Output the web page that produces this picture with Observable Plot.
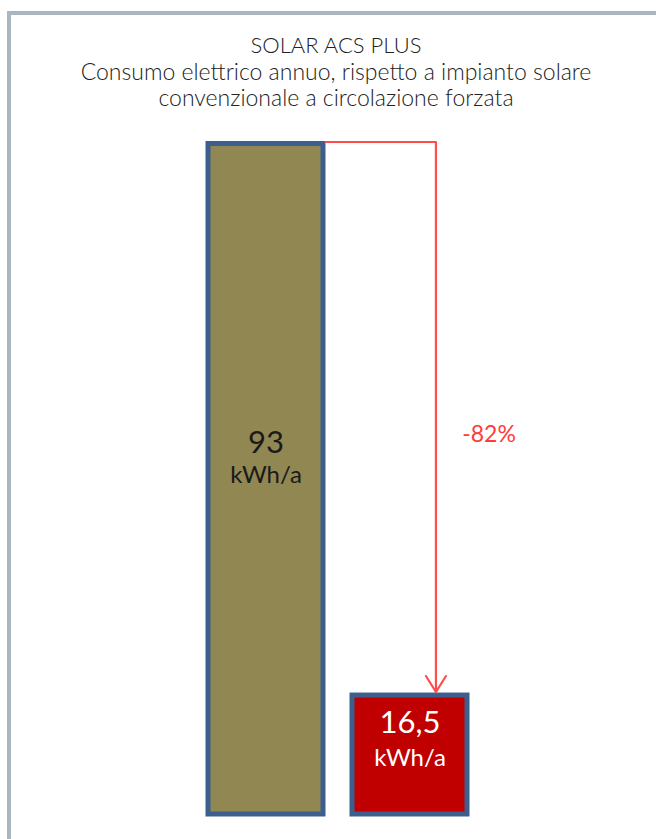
<!DOCTYPE html>
<html>
<head>
<meta charset="utf-8">
<script src="https://cdn.jsdelivr.net/npm/d3@7"></script>
<script src="https://cdn.jsdelivr.net/npm/@observablehq/plot@0.6"></script>
<style>
  html, body { margin: 0; padding: 0; background: #fff; overflow: hidden; }
  #wrap { position: relative; width: 656px; height: 839px; }
  #frame { position: absolute; left: 7px; top: 11px; right: 0; bottom: 0;
           border-left: 4px solid #a9b6c0; border-top: 4px solid #a9b6c0; z-index: 2; pointer-events: none; }
  #title { position: absolute; left: 16px; width: 640px; top: 32px; text-align: center;
           font-family: Lato, "Open Sans", sans-serif; font-weight: 300; font-size: 23px;
           line-height: 26px; color: #222; z-index: 3; }
  #title .l1 { font-size: 22px; }
  #chart { position: absolute; left: 0; top: 0; z-index: 1; }
</style>
</head>
<body>
<div id="wrap">
  <div id="chart"></div>
  <div id="frame"></div>
  <div id="title">
    <div class="l1">SOLAR ACS PLUS</div>
    <div>Consumo elettrico annuo, rispetto a impianto solare</div>
    <div>convenzionale a circolazione forzata</div>
  </div>
</div>
<script>
// ---- data ----
const categories = ["Impianto solare convenzionale", "SOLAR ACS PLUS"];
const values = [93, 16.5];
const valueLabels = ["93", "16,5"];
const unitLabel = "kWh/a";
const reductionLabel = "-82%";

// ---- styles ----
const barColors = ["#918752", "#c00000"];
const textColors = ["#1a1a1a", "#ffffff"];
const borderColor = "#3d5f8e";
const arrowColor = "#ff4d4d";

const data = categories.map((c, i) => ({cat: c, value: values[i], label: valueLabels[i], i}));

// elbow arrow from the top of the first bar to the top of the second
function arrowMark(index, scales) {
  const x = scales.x, y = scales.y;
  const bw = typeof x.bandwidth === "function" ? x.bandwidth() : scales.scales.x.bandwidth;
  const xStart = x(categories[0]) + bw + 2.5;
  const xArrow = x(categories[1]) + bw * 0.73;
  const yTop = y(values[0]) - 1.5;
  const yTip = y(values[1]) - 3;
  const g = d3.create("svg:g")
    .attr("fill", "none")
    .attr("stroke", arrowColor)
    .attr("stroke-width", 2.2)
    .attr("stroke-linejoin", "round")
    .attr("stroke-linecap", "round");
  g.append("path").attr("d", `M${xStart},${yTop}H${xArrow}V${yTip}`);
  g.append("path").attr("d", `M${xArrow - 10},${yTip - 16}L${xArrow},${yTip}L${xArrow + 10},${yTip - 16}`);
  return g.node();
}

const chart = Plot.plot({
  width: 656,
  height: 839,
  marginTop: 143.5,
  marginBottom: 25,
  marginLeft: 179,
  marginRight: 159.5,
  x: {domain: categories, padding: 0.2, axis: null},
  y: {domain: [0, d3.max(values)], axis: null},
  style: {background: "transparent", overflow: "visible", fontFamily: "Lato, sans-serif"},
  marks: [
    Plot.barY(data, {x: "cat", y: "value", fill: d => barColors[d.i], stroke: borderColor, strokeWidth: 5}),
    arrowMark,
    Plot.text(data.slice(0, 1), {x: "cat", y: d => d.value / 2, text: "label", fill: textColors[0], fontSize: 31, dy: -36}),
    Plot.text(data.slice(0, 1), {x: "cat", y: d => d.value / 2, text: () => unitLabel, fill: textColors[0], fontSize: 24, dy: -4}),
    Plot.text(data.slice(1, 2), {x: "cat", y: d => d.value / 2, text: "label", fill: textColors[1], fontSize: 31, dy: -32}),
    Plot.text(data.slice(1, 2), {x: "cat", y: d => d.value / 2, text: () => unitLabel, fill: textColors[1], fontSize: 24, dy: 3.5}),
    Plot.text([reductionLabel], {x: () => categories[1], y: () => (values[0] + values[1]) / 2, text: d => d, fill: "#ff3b3b", fontSize: 23, dx: 79, dy: 15})
  ]
});
document.getElementById("chart").appendChild(chart);
</script>
</body>
</html>
